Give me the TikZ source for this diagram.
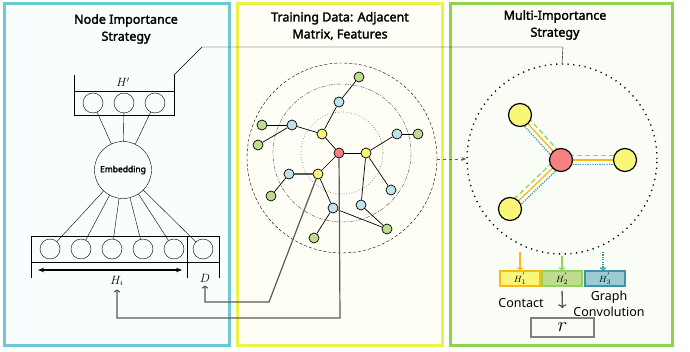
\documentclass[tikz,border=0pt]{standalone}
\usepackage{fontspec}
\setmainfont{Noto Sans}[BoldFont={Noto Sans},BoldFeatures={FakeBold=2}]
\usetikzlibrary{arrows.meta}
\pgfdeclarelayer{panel}
\pgfdeclarelayer{edge}
\pgfsetlayers{panel,edge,main}
\definecolor{cyanp}{RGB}{110,200,212}
\definecolor{yellowp}{RGB}{238,242,70}
\definecolor{greenp}{RGB}{146,208,80}
\definecolor{redv}{RGB}{244,130,128}
\definecolor{yellowv}{RGB}{250,246,120}
\definecolor{bluev}{RGB}{192,226,234}
\definecolor{greenv}{RGB}{190,220,142}
\definecolor{orangel}{RGB}{250,186,20}
\definecolor{greenl}{RGB}{150,210,90}
\definecolor{bluel}{RGB}{60,150,170}
\definecolor{linkgray}{RGB}{90,90,90}
\begin{document}
\begin{tikzpicture}
  [x=1pt,y=-1pt,line width=0.9pt,
   panel/.style={line width=3pt},
   title/.style={font=\bfseries\fontsize{12.5}{17}\selectfont,align=center},
   unit/.style={circle,draw,minimum size=20pt,inner sep=0pt},
   vtx/.style={circle,draw,line width=0.7pt,minimum size=10pt,inner sep=0pt},
   big/.style={circle,draw,line width=1.2pt,minimum size=23pt,inner sep=0pt},
   link/.style={draw=linkgray,line width=1.2pt},
   mathlbl/.style={font=\fontsize{11.5}{12}\selectfont},
   hbox/.style={draw,line width=1.5pt,minimum width=40pt,minimum height=15pt,inner sep=0pt,font=\fontsize{9.5}{9}\selectfont},
   label/.style={font=\fontsize{12.5}{16}\selectfont,align=center}]
  \useasboundingbox (0,0) rectangle (690,352);

  % panels
  \begin{pgfonlayer}{panel}
    \draw[panel,draw=cyanp,fill=cyanp!4] (4.5,3.5) rectangle (229,345);
    \draw[panel,draw=yellowp,fill=yellowp!5] (237,3.5) rectangle (442,345);
    \draw[panel,draw=greenp,fill=greenp!5] (450,3.5) rectangle (672,345);
  \end{pgfonlayer}

  \node[title] (t1) at (126,29) {Node Importance\\Strategy};
  \node[title] (t2) at (340,26) {Training Data: Adjacent\\Matrix, Features};
  \node[title] (t3) at (555,25) {Multi-Importance\\Strategy};

  % node importance
  \draw (74,75) -- (74,115) -- (174,115) -- (174,75);
  \draw (74,91) -- (174,91);
  \coordinate (hcorner) at (174,75);
  \node[mathlbl] (hp) at (123,82) {$H'$};
  \node[unit] (h1) at (93,103) {};
  \node[unit] (h2) at (124,103) {};
  \node[unit] (h3) at (155,103) {};
  \node[circle,draw,minimum size=57pt,inner sep=0pt,font=\bfseries\fontsize{8.5}{10}\selectfont] (emb) at (123,170) {Embedding};

  \draw (31,236) rectangle (219,262);
  \draw (31,262) -- (31,278);
  \draw (187,236) -- (187,278);
  \draw (219,262) -- (219,278);
  \node[unit] (x1) at (50,249) {};
  \node[unit] (x2) at (81,249) {};
  \node[unit] (x3) at (112,249) {};
  \node[unit] (x4) at (143,249) {};
  \node[unit] (x5) at (174,249) {};
  \node[unit] (xd) at (203,249) {};
  \draw[{Stealth[length=6pt]}-{Stealth[length=6pt]},line width=1.8pt] (38,270) -- (182,270);
  \node[mathlbl] (hi) at (117,281) {$H_i$};
  \node[mathlbl] (dl) at (205,278) {$D$};

  \foreach \u in {h1,h2,h3,x1,x2,x3,x4,x5,xd}
    \draw (\u) -- (emb);

  % training data
  \draw[dash pattern=on 3pt off 2pt] (342,158) circle[radius=95];
  \draw[black!70,dash pattern=on 4pt off 1.5pt on 1pt off 1.5pt] (342,153) circle[radius=69];
  \draw[gray,line width=0.7pt,dotted] (342,153) circle[radius=41];

  \node[vtx,fill=redv] (r) at (339,153) {};
  \node[vtx,fill=yellowv] (y1) at (322,134) {};
  \node[vtx,fill=yellowv] (y2) at (366,153) {};
  \node[vtx,fill=yellowv] (y3) at (318,174) {};
  \node[vtx,fill=bluev] (b1) at (339,102) {};
  \node[vtx,fill=bluev] (b2) at (292,125) {};
  \node[vtx,fill=bluev] (b3) at (397,134) {};
  \node[vtx,fill=bluev] (b4) at (289,174) {};
  \node[vtx,fill=bluev] (b5) at (333,208) {};
  \node[vtx,fill=bluev] (b6) at (361,205) {};
  \node[vtx,fill=bluev] (b7) at (391,190) {};
  \node[vtx,fill=greenv] (g1) at (359,77) {};
  \node[vtx,fill=greenv] (g2) at (262,125) {};
  \node[vtx,fill=greenv] (g3) at (258,145) {};
  \node[vtx,fill=greenv] (g4) at (418,134) {};
  \node[vtx,fill=greenv] (g5) at (271,196) {};
  \node[vtx,fill=greenv] (g6) at (314,238) {};
  \node[vtx,fill=greenv] (g7) at (387,229) {};

  \foreach \from/\to in {r/y1,r/y2,r/y3,y1/b1,b1/g1,y1/b2,b2/g2,b2/g3,y2/b3,b3/g4,
                         y2/b6,y2/b7,b4/g5,y3/b5,b5/g6,b5/g7,b6/g7}
    \draw[line width=0.7pt] (\from) -- (\to);
  \draw[link] (y3) -- (b4);

  \coordinate (turnA) at (340,318);
  \coordinate (turnB) at (269,302);
  \draw[link,-{To[length=3pt]}] (r) -- (turnA) -| (hi.south);
  \draw[link,-{To[length=3pt]}] (y3) -- (turnB) -| (dl.south);

  % multi-importance
  \node[circle,draw,line width=1.4pt,dash pattern=on 1.2pt off 4.5pt,minimum size=190pt,inner sep=0pt] (ring) at (562,159) {};
  \draw (hcorner) -- (202,47) -- (563,47) -- (ring.north);
  \coordinate (midout) at (437,159);
  \draw[linkgray,dashed,-{Stealth[length=5pt]}] (midout) -- (ring.west);

  \node[big,fill=redv] (R) at (561,160) {};
  \node[big,fill=yellowv] (Y1) at (520,115) {};
  \node[big,fill=yellowv] (Y2) at (625,160) {};
  \node[big,fill=yellowv] (Y3) at (510,209) {};

  \begin{pgfonlayer}{edge}
    \foreach \v/\gx/\gy/\bx/\by in {Y1/3.2/-2.8/-3.2/2.8, Y2/0/-4.5/0/4.5, Y3/-3/-3/3/3} {
      \draw[orangel,line width=1.3pt] (R.center) -- (\v.center);
      \draw[greenl,line width=1.3pt,dash pattern=on 5pt off 3pt]
        ([shift={(\gx,\gy)}]R.center) -- ([shift={(\gx,\gy)}]\v.center);
      \draw[bluel,line width=1.3pt,dash pattern=on 1.2pt off 1.2pt]
        ([shift={(\bx,\by)}]R.center) -- ([shift={(\bx,\by)}]\v.center);
    }
  \end{pgfonlayer}

  \node[hbox,draw=orangel,fill=yellowv] (o1) at (520,278.5) {$H^{'}_{1}$};
  \node[hbox,draw=greenl,fill=greenv] (o2) at (562,278.5) {$H^{'}_{2}$};
  \node[hbox,draw=bluel,fill=bluel!50] (o3) at (605,278.5) {$H^{'}_{3}$};
  \coordinate (s1) at (520,252);
  \coordinate (s2) at (562,256);
  \coordinate (s3) at (603,252);
  \draw[orangel,line width=1.3pt,-{To[length=3pt]}] (s1) -- (o1.north);
  \draw[greenl,line width=1.3pt,-{To[length=3pt]}] (s2) -- (o2.north);
  \draw[bluel,line width=1.3pt,dash pattern=on 1.2pt off 1.2pt,-{To[length=3pt]}] (s3) -- (o3.north -| s3);

  \node[label] (contact) at (521,303) {Contact};
  \node[label] (gconv) at (609,304) {Graph\\Convolution};
  \node[draw=gray,line width=1.5pt,minimum width=63pt,minimum height=19pt,inner sep=0pt,font=\fontsize{20}{20}\selectfont] (rbox) at (562.5,327.5) {$r$};
  \draw[linkgray,line width=1.3pt,-{To[length=4pt]},shorten <=4pt,shorten >=9pt] (o2.south) -- (rbox.north);
\end{tikzpicture}
\end{document}
